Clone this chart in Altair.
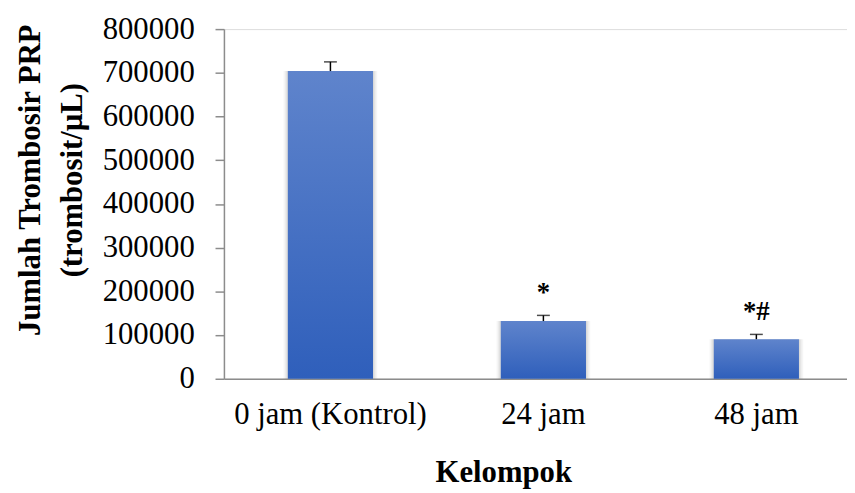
import altair as alt
import pandas as pd

categories = ["0 jam (Kontrol)", "24 jam", "48 jam"]
values = [704000, 132000, 90500]
errors = [21000, 13000, 11000]
annotations = ["", "*", "*#"]
y_ticks = [0, 100000, 200000, 300000, 400000, 500000, 600000, 700000, 800000]

df = pd.DataFrame({
    "kelompok": categories,
    "value": values,
    "err": errors,
    "note": annotations,
})
df["top"] = df["value"] + df["err"]

FONT = "Liberation Serif"

x_enc = alt.X(
    "kelompok:N",
    sort=categories,
    scale=alt.Scale(paddingInner=0.6, paddingOuter=0.3, range=[0, 645]),
    axis=alt.Axis(
        title="Kelompok",
        labelAngle=0,
        ticks=False,
        labelPadding=21,
        labelLimit=0,
        labelFontSize=31,
        labelFont=FONT,
        labelColor="#000000",
        titleFont=FONT,
        titleFontSize=31,
        titleFontWeight="bold",
        titleColor="#000000",
        titleX=282,
        titleY=104,
        titleBaseline="alphabetic",
        domainColor="#8c8c8c",
        domainWidth=1.5,
    ),
)

y_scale = alt.Scale(domain=[0, 800000], nice=False, zero=True)

y_enc = alt.Y(
    "value:Q",
    scale=y_scale,
    axis=alt.Axis(
        title=["Jumlah Trombosir PRP", "(trombosit/µL)"],
        values=y_ticks,
        format="d",
        grid=False,
        tickSize=9,
        tickColor="#8c8c8c",
        tickWidth=1.5,
        domainColor="#8c8c8c",
        domainWidth=1.5,
        labelPadding=21,
        labelFontSize=31,
        labelFont=FONT,
        labelColor="#000000",
        titleFont=FONT,
        titleFontSize=31,
        titleFontWeight="bold",
        titleColor="#000000",
        titleAngle=270,
        titleAlign="center",
        titleBaseline="alphabetic",
        titleLineHeight=42,
        titleX=-186,
        titleY=152,
    ),
)

base = alt.Chart(df)

shadows = [
    base.mark_bar(width={"band": 1.10}, color="#000000", opacity=0.04).encode(x=x_enc, y=y_enc),
    base.mark_bar(width={"band": 1.06}, color="#000000", opacity=0.05).encode(x=x_enc, y=y_enc),
    base.mark_bar(width={"band": 1.03}, color="#000000", opacity=0.06).encode(x=x_enc, y=y_enc),
]

bars = base.mark_bar(
    color={
        "gradient": "linear",
        "x1": 0, "y1": 0, "x2": 0, "y2": 1,
        "stops": [
            {"offset": 0, "color": "#5f84cc"},
            {"offset": 1, "color": "#2f5fbb"},
        ],
    }
).encode(x=x_enc, y=y_enc)

err_rule = base.mark_rule(color="#000000", strokeWidth=1.5).encode(
    x=alt.X("kelompok:N", sort=categories),
    y=alt.Y("value:Q", scale=y_scale),
    y2="top:Q",
)

err_cap = base.mark_tick(color="#000000", thickness=1.5, size=13, orient="horizontal").encode(
    x=alt.X("kelompok:N", sort=categories),
    y=alt.Y("top:Q", scale=y_scale),
)

notes = base.mark_text(
    font=FONT, fontSize=27, fontWeight="bold", color="#000000",
    baseline="middle", dy=-23,
).encode(
    x=alt.X("kelompok:N", sort=categories),
    y=alt.Y("top:Q", scale=y_scale),
    text="note:N",
)

chart = alt.layer(*shadows, bars, err_rule, err_cap, notes).properties(
    width=629,
    height=353,
    autosize=alt.AutoSizeParams(type="none"),
    padding={"left": 218, "top": 19, "right": 0, "bottom": 111},
).configure_view(stroke=None).configure(background="#ffffff")

chart.save("out.html", embed_options={"renderer": "svg", "actions": False})
